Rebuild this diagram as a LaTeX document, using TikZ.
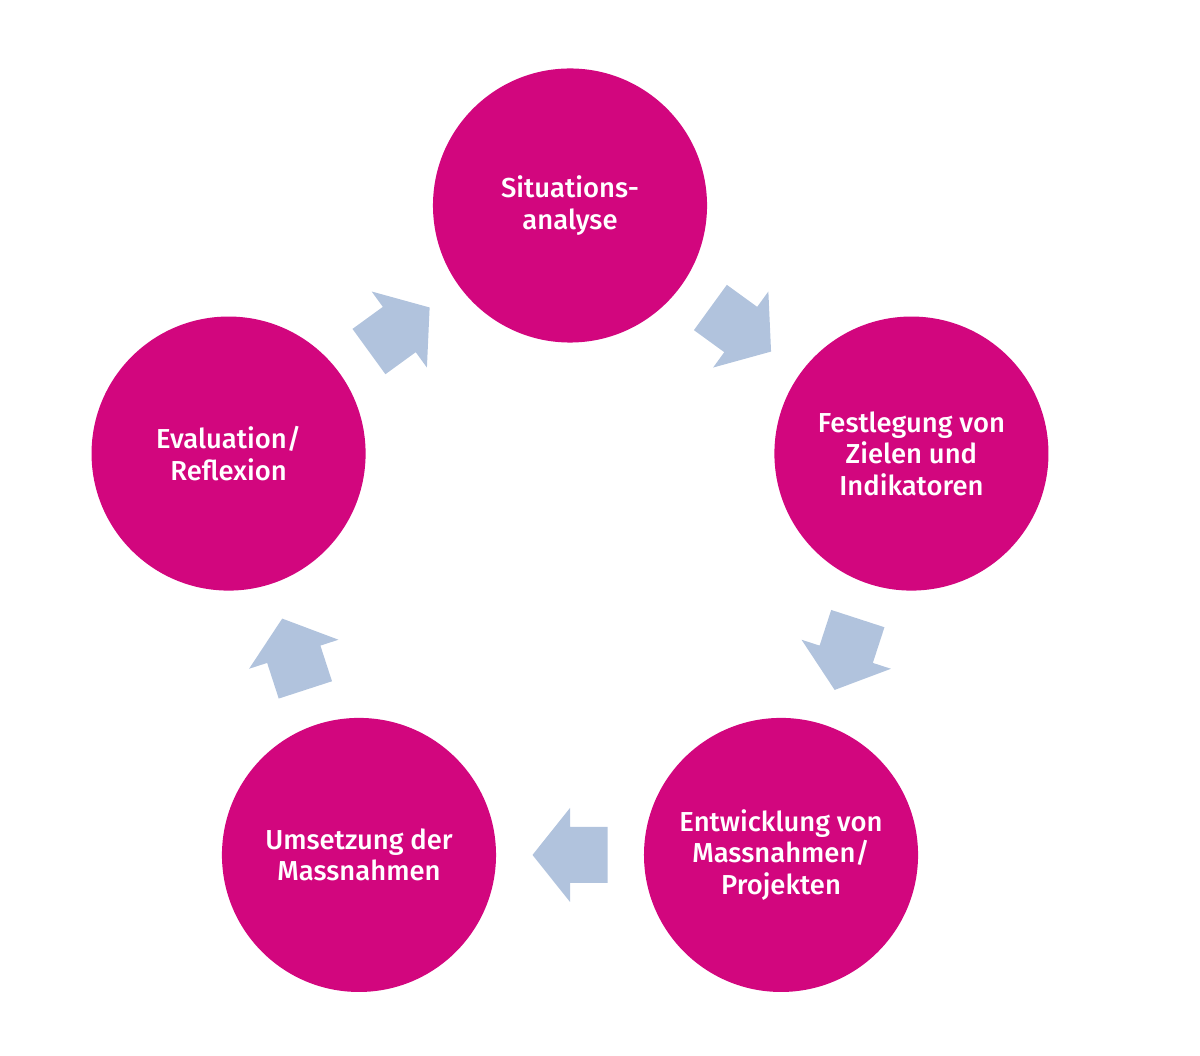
\documentclass[tikz,border=0pt]{standalone}
\usepackage{fontspec}
\newfontfamily\stagefont{Fira Sans Medium}
\usetikzlibrary{calc}
\definecolor{stagemagenta}{RGB}{210,6,126}
\definecolor{arrowblue}{RGB}{177,195,221}
\tikzset{
    stage/.style={circle, fill=stagemagenta, minimum size=6.85cm, inner sep=0pt,
        text=white, align=center, font=\stagefont\fontsize{19.5}{22.5}\selectfont},
    flow arrow/.pic={
        \fill[arrowblue] (-37.5,-28) -- (0,-28) -- (0,-47) -- (37.5,0)
            -- (0,47) -- (0,28) -- (-37.5,28) -- cycle;
    },
}

\begin{document}
\begin{tikzpicture}[x=0.025cm, y=0.025cm]
        \useasboundingbox (0,0) rectangle (1200,1055);
        \coordinate (M) at (570,490.5);

        \node[stage] (S1) at ($(M) + (90:359)$) {Situations-\\analyse};
        \node[stage] (S2) at ($(M) + (18:359)$) {Festlegung von\\Zielen und\\Indikatoren};
        \node[stage] (S3) at ($(M) + (-54:359)$) {Entwicklung von\\Massnahmen/\\Projekten};
        \node[stage] (S4) at ($(M) + (-126:359)$) {Umsetzung der\\Massnahmen};
        \node[stage] (S5) at ($(M) + (162:359)$) {Evaluation/\\Reflexion};

        \foreach \from/\to/\ang in {S1/S2/-36, S2/S3/-108, S3/S4/180, S4/S5/108, S5/S1/36}
            \path ($(\from)!0.5!(\to)$) pic[rotate=\ang] {flow arrow};
    \end{tikzpicture}
\end{document}
